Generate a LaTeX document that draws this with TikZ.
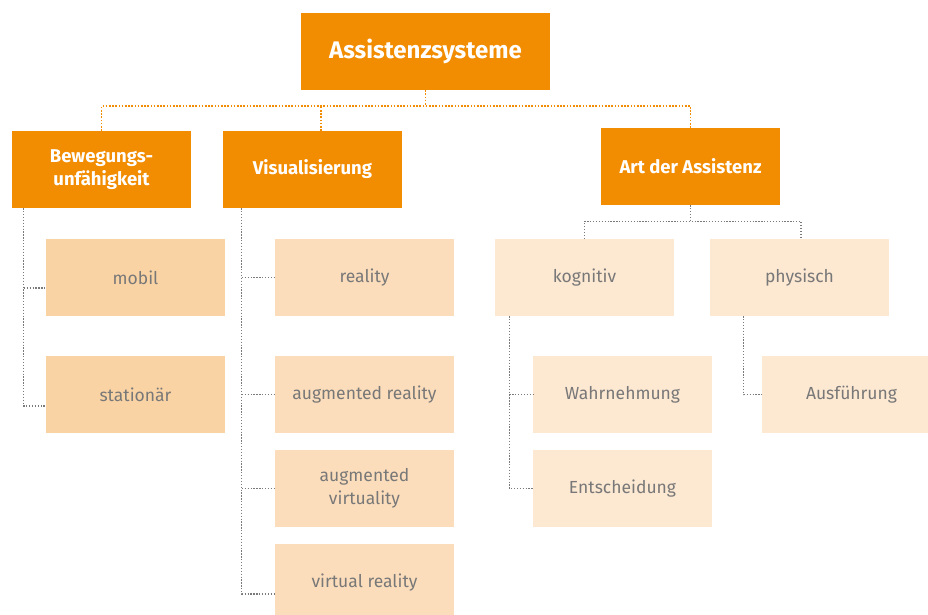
\documentclass[tikz,border=0pt]{standalone}
\usepackage{fontspec}
\setmainfont{Fira Sans}
\definecolor{orgA}{HTML}{F28C00}
\definecolor{pchA}{HTML}{FAD3A5}
\definecolor{pchB}{HTML}{FBDDBB}
\definecolor{pchC}{HTML}{FDE8D2}
\definecolor{txtG}{HTML}{787878}
\definecolor{lnG}{HTML}{7A7A7A}
\tikzset{
  box/.style={minimum width=179pt, minimum height=77pt, inner sep=0pt, align=center, font=\fontsize{17.5}{23.5}\selectfont, text=txtG},
  head/.style={box, fill=orgA, text=white, font=\fontsize{18.5}{23.5}\bfseries\selectfont},
  lvA/.style={box, fill=pchA},
  lvB/.style={box, fill=pchB},
  lvC/.style={box, fill=pchC},
  od/.style={draw=orgA, line width=1.6pt, dash pattern=on 1.6pt off 1.6pt},
  gd/.style={draw=lnG, line width=1.3pt, dash pattern=on 1.3pt off 1.6pt}
}
\begin{document}
\begin{tikzpicture}[x=1pt,y=-1pt]
\useasboundingbox (0,0) rectangle (928,614);
\clip (0,0) rectangle (928,614);
% nodes
\node[head, minimum width=249pt, font=\fontsize{24}{28}\bfseries\selectfont] (A) at (425.5,51.5) {Assistenzsysteme};
\node[head] (B) at (101.5,169.5) {Bewegungs-\\unfähigkeit};
\node[head] (V) at (312.5,169.5) {Visualisierung};
\node[head] (AA) at (690.5,166.5) {Art der Assistenz};
\node[lvA] (m1) at (135.5,277.5) {mobil};
\node[lvA] (m2) at (135.5,394.5) {stationär};
\node[lvB] (v1) at (364.5,277.5) {reality};
\node[lvB] (v2) at (364.5,394.5) {augmented reality};
\node[lvB] (v3) at (364.5,488.5) {augmented\\virtuality};
\node[lvB] (v4) at (364.5,582.5) {virtual reality};
\node[lvC] (k) at (584.5,277.5) {kognitiv};
\node[lvC] (p) at (799.5,277.5) {physisch};
\node[lvC] (w1) at (622.5,394.5) {Wahrnehmung};
\node[lvC] (w2) at (622.5,488.5) {Entscheidung};
\node[lvC] (a1) at (851.5,394.5) {Ausführung};
% orange connectors
\draw[od] (A.south) -- ++(0,16) coordinate (j1);
\draw[od] (B.north) |- (AA.north |- j1) -- (AA.north);
\draw[od] ([xshift=8.5pt]V.north) -- ([xshift=8.5pt]V.north |- j1);
% grey connectors
\draw[gd] (AA.south) -- ++(0,16) coordinate (j2);
\draw[gd] (k.north) |- ([xshift=1.5pt]p.north |- j2) -- ([xshift=1.5pt]p.north);
\draw[gd] ([xshift=12pt]B.south west) |- ([yshift=-11.5pt]m2.west);
\draw[gd] ([xshift=12pt]B.south west |- 0,288) -- ([yshift=-10.5pt]m1.west);
\draw[gd] ([xshift=19pt]V.south west) |- ([yshift=-11.5pt]v4.west);
\draw[gd] ([xshift=19pt]V.south west |- v1.west) -- (v1.west);
\draw[gd] ([xshift=19pt]V.south west |- v2.west) -- (v2.west);
\draw[gd] ([xshift=19pt]V.south west |- v3.west) -- (v3.west);
\draw[gd] ([xshift=14.5pt]k.south west) |- (w2.west);
\draw[gd] ([xshift=14.5pt]k.south west |- w1.west) -- (w1.west);
\draw[gd] ([xshift=34pt]p.south west) |- (a1.west);
\end{tikzpicture}
\end{document}
